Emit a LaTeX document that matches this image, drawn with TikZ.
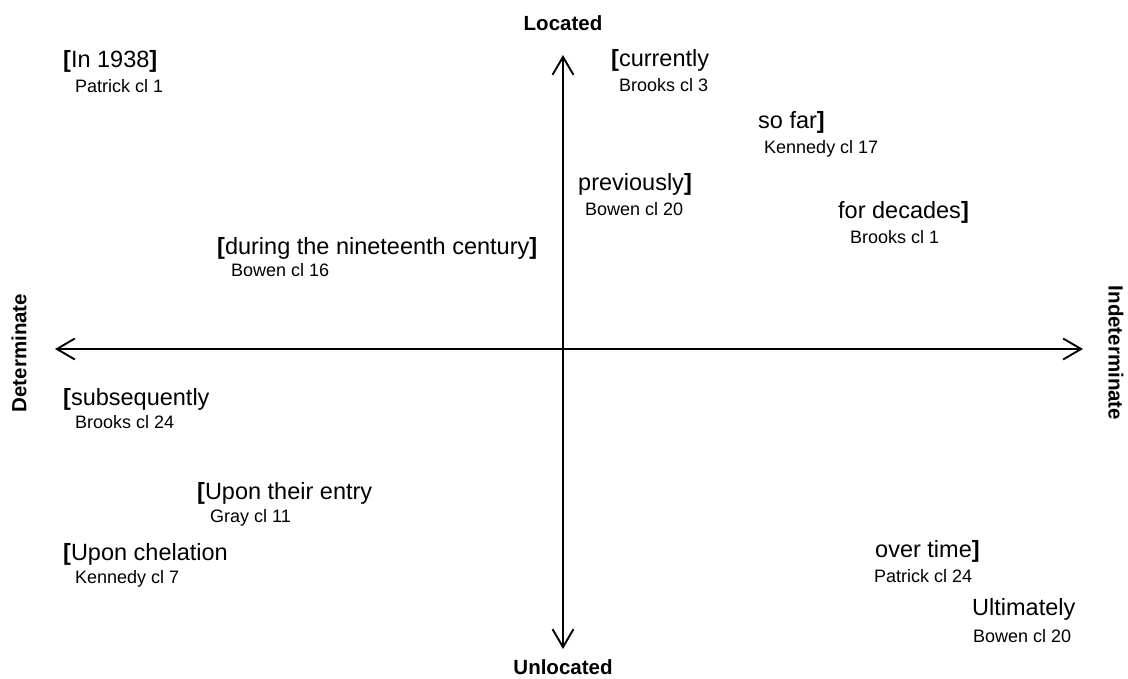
\documentclass[tikz,border=0pt]{standalone}
\usepackage{fontspec}
\setmainfont{Liberation Sans}
\usetikzlibrary{arrows.meta}
\begin{document}
\begin{tikzpicture}[x=1pt,y=-1pt,
  axis/.style={line width=1.9pt,{Straight Barb[length=18pt,width=21pt,line width=1.9pt]}-{Straight Barb[length=18pt,width=21pt,line width=1.9pt]}},
  axislabel/.style={font=\fontsize{20.5}{24}\selectfont\bfseries,inner sep=0pt},
  term/.style={font=\fontsize{23.5}{26}\selectfont,anchor=base west,inner sep=0pt},
  src/.style={font=\fontsize{18}{21}\selectfont,anchor=base west,inner sep=0pt}]
\useasboundingbox (0,0) rectangle (1128,678);
\newcommand{\lb}{\textbf{[}}
\newcommand{\rb}{\textbf{]}}

% axes
\coordinate (top) at (563,55);
\coordinate (bottom) at (563,649);
\coordinate (left) at (55,349);
\coordinate (right) at (1083,349);
\draw[axis] (top) -- (bottom);
\draw[axis] (left) -- (right);

% axis labels
\node[axislabel] (located) at (563,23) {Located};
\node[axislabel] (unlocated) at (563,667) {Unlocated};
\node[axislabel,rotate=90] (det) at (19,353) {Determinate};
\node[axislabel,rotate=-90] (indet) at (1116,353) {Indeterminate};

% temporal expressions and their sources
\node[term] (t1) at (63,67) {\lb In 1938\rb};
\node[src] (s1) at (75,92) {Patrick cl 1};

\node[term] (t2) at (611,66) {\lb currently};
\node[src] (s2) at (619,91) {Brooks cl 3};

\node[term] (t3) at (758,128) {so far\rb};
\node[src] (s3) at (764,153) {Kennedy cl 17};

\node[term] (t4) at (578,190) {previously\rb};
\node[src] (s4) at (585,215) {Bowen cl 20};

\node[term] (t5) at (838,218) {for decades\rb};
\node[src] (s5) at (850,243) {Brooks cl 1};

\node[term] (t6) at (217,254) {\lb during the nineteenth century\rb};
\node[src] (s6) at (231,276) {Bowen cl 16};

\node[term] (t7) at (63,405) {\lb subsequently};
\node[src] (s7) at (75,428) {Brooks cl 24};

\node[term] (t8) at (197,499) {\lb Upon their entry};
\node[src] (s8) at (210,522) {Gray cl 11};

\node[term] (t9) at (63,560) {\lb Upon chelation};
\node[src] (s9) at (75,583) {Kennedy cl 7};

\node[term] (t10) at (875,557) {over time\rb};
\node[src] (s10) at (874,582) {Patrick cl 24};

\node[term] (t11) at (972,615) {Ultimately};
\node[src] (s11) at (973,642) {Bowen cl 20};
\end{tikzpicture}
\end{document}
